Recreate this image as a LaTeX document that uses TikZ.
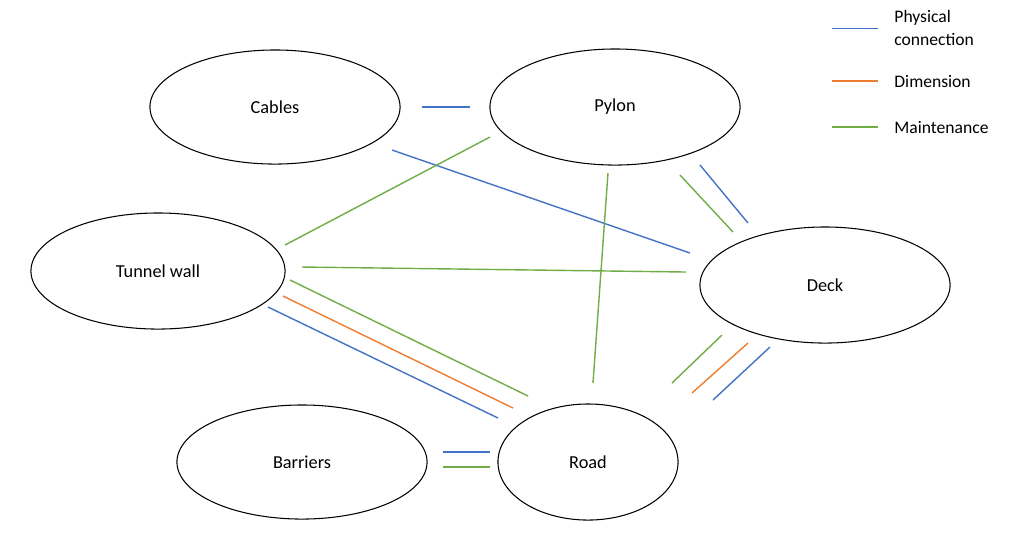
\documentclass[tikz,border=0pt]{standalone}
\usepackage{fontspec}
\setmainfont{Carlito}
\usetikzlibrary{shapes.geometric}
\definecolor{physc}{HTML}{4472C4}
\definecolor{dimc}{HTML}{ED7D31}
\definecolor{mainc}{HTML}{70AD47}
\begin{document}
\begin{tikzpicture}[x=0.01cm, y=-0.01cm,
    part/.style={ellipse, draw, line width=0.3pt, inner sep=0pt, font=\fontsize{5.2}{6}\selectfont},
    phys/.style={physc, line width=0.4pt},
    dim/.style={dimc, line width=0.4pt},
    maint/.style={mainc, line width=0.4pt},
    legend/.style={anchor=west, align=left, font=\fontsize{5}{6.6}\selectfont}]
    \useasboundingbox (0,0) rectangle (1024,547);
    \node[part, minimum width=2.5cm, minimum height=1.14cm] (cables) at (275,107) {Cables};
    \node[part, minimum width=2.5cm, minimum height=1.16cm] (pylon) at (615,107) {Pylon};
    \node[part, minimum width=2.54cm, minimum height=1.16cm] (tunnel) at (158,271) {Tunnel wall};
    \node[part, minimum width=2.5cm, minimum height=1.16cm] (deck) at (825,285) {Deck};
    \node[part, minimum width=2.5cm, minimum height=1.14cm] (barriers) at (302,462) {Barriers};
    \node[part, minimum width=1.8cm, minimum height=1.16cm] (road) at (588,462) {Road};
    % connections
    \draw[phys] (422,107) -- (470,107);
    \draw[phys] (392,150) -- (690,253);
    \draw[maint] (490,137) -- (285,245);
    \draw[maint] (608,173) -- (593,383);
    \draw[maint] (680,175) -- (733,232);
    \draw[phys] (700,165) -- (748,223);
    \draw[maint] (302,267) -- (686,272);
    \draw[maint] (290,280) -- (528,396);
    \draw[dim] (283,296) -- (513,408);
    \draw[phys] (268,307) -- (498,418);
    \draw[maint] (722,335) -- (672,383);
    \draw[dim] (748,343) -- (692,393);
    \draw[phys] (770,347) -- (713,400);
    \draw[phys] (443,452) -- (490,452);
    \draw[maint] (443,467) -- (490,467);
    % legend
    \draw[phys, line width=0.25pt] (832,28) -- (878,28);
    \node[legend] (lphys) at (882,28) {Physical\\connection};
    \draw[dim] (832,81) -- (878,81);
    \node[legend] (ldim) at (882,81) {Dimension};
    \draw[maint] (832,127) -- (878,127);
    \node[legend] (lmaint) at (882,127) {Maintenance};
\end{tikzpicture}
\end{document}
